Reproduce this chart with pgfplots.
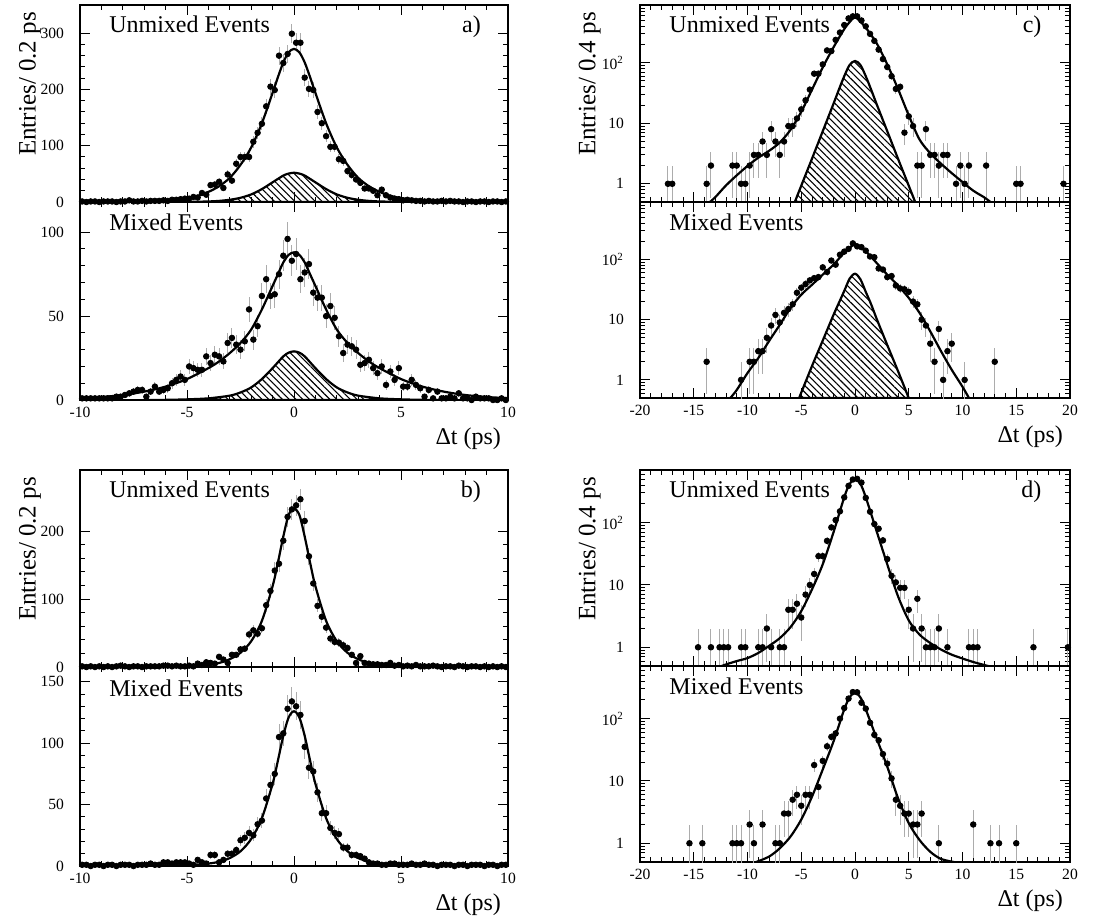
\documentclass[border=0pt]{standalone}
\usepackage{fontspec}
\setmainfont{Liberation Serif}
\usepackage{pgfplots}
\usepackage{pgfplotstable}
\pgfplotsset{compat=1.18}
\usetikzlibrary{patterns.meta}

\tikzset{lab/.style={font=\fontsize{12}{14}\selectfont}}
\pgfplotsset{
  rootbase/.style={scale only axis, width=214pt,
    axis line style={line width=0.8pt},
    tick align=inside, major tick length=5pt, minor tick length=2.5pt,
    every tick/.append style={black, line width=0.5pt},
    xmin=-10, xmax=10, xtick={-10,-5,0,5,10}, minor x tick num=4,
    tick label style={font=\fontsize{7.8}{9}\selectfont},
    yticklabel style={xshift=-4.5pt},
    /pgf/number format/assume math mode=true},
  widex/.style={xmin=-20, xmax=20, xtick={-20,-15,...,20}, width=215pt},
  upperpanel/.style={xticklabels={}},
  liny/.style={minor y tick num=4},
  logticks/.style={ymin=0.5, ytick={1,10,100},
    yticklabels={1,10,10\textsuperscript{2}},
    minor ytick={0.5,0.6,0.7,0.8,0.9,2,3,4,5,6,7,8,9,20,30,40,50,60,70,80,90,200,300,400,500,600,700,800,900}},
  ylab/.style={ylabel style={at={(rel axis cs:-0.159,1)}, anchor=north east,
    font=\fontsize{12.5}{14}\selectfont}},
  xlab/.style={xlabel={Δt (ps)}, xlabel style={at={(rel axis cs:1,0)},
    anchor=base east, yshift=-22pt, font=\fontsize{12}{14}\selectfont}},
  pts/.style={only marks, mark=*, mark size=1.4pt, black,
    error bars/.cd, y dir=both, y explicit, error mark=none,
    error bar style={gray!65, line width=0.5pt}},
  fit/.style={black, line width=1.1pt, smooth, no marks},
  hatch/.style={draw=black, line width=1.1pt, smooth, no marks,
    pattern={Lines[angle=-45, distance=2.4pt, line width=0.55pt]}},
}

% panel a
\pgfplotstableread[row sep=\\]{
x y\\
-9.9 1\\ -9.7 0\\ -9.5 1\\ -9.3 1\\ -9.1 0\\ -8.9 1\\ -8.7 1\\ -8.5 1\\ -8.3 0\\ -8.1 1\\
-7.9 1\\ -7.7 3\\ -7.5 1\\ -7.3 1\\ -7.1 2\\ -6.9 1\\ -6.7 2\\ -6.5 2\\ -6.3 2\\ -6.1 3\\
-5.9 2\\ -5.7 4\\ -5.5 4\\ -5.3 5\\ -5.1 6\\ -4.9 6\\ -4.7 9\\ -4.5 8\\ -4.3 16\\ -4.1 13\\
-3.9 30\\ -3.7 31\\ -3.5 36\\ -3.3 25\\ -3.1 49\\ -2.9 38\\ -2.7 68\\ -2.5 80\\ -2.3 80\\ -2.1 80\\
-1.9 107\\ -1.7 123\\ -1.5 139\\ -1.3 170\\ -1.1 205\\ -0.9 199\\ -0.7 260\\ -0.5 247\\ -0.3 263\\ -0.1 299\\
0.1 283\\ 0.3 283\\ 0.5 221\\ 0.7 201\\ 0.9 199\\ 1.1 160\\ 1.3 140\\ 1.5 117\\ 1.7 98\\ 1.9 98\\
2.1 76\\ 2.3 73\\ 2.5 55\\ 2.7 48\\ 2.9 40\\ 3.1 34\\ 3.3 24\\ 3.5 24\\ 3.7 20\\ 3.9 12\\
4.1 22\\ 4.3 12\\ 4.5 8\\ 4.7 6\\ 4.9 5\\ 5.1 3\\ 5.3 4\\ 5.5 3\\ 5.7 2\\ 5.9 2\\
6.1 1\\ 6.3 2\\ 6.5 1\\ 6.7 1\\ 6.9 2\\ 7.1 1\\ 7.3 2\\ 7.5 1\\ 7.7 1\\ 7.9 0\\
8.1 1\\ 8.3 1\\ 8.5 0\\ 8.7 1\\ 8.9 1\\ 9.1 0\\ 9.3 1\\ 9.5 1\\ 9.7 0\\ 9.9 1\\
}\aU
\pgfplotstableread[row sep=\\]{
x y\\
-9.9 1\\ -9.7 1\\ -9.5 1\\ -9.3 1\\ -9.1 1\\ -8.9 1\\ -8.7 1\\ -8.5 1\\ -8.3 2\\ -8.1 2\\
-7.9 3\\ -7.7 4\\ -7.5 5\\ -7.3 6\\ -7.1 6\\ -6.9 2\\ -6.7 5\\ -6.5 8\\ -6.3 5\\ -6.1 6\\
-5.9 7\\ -5.7 10\\ -5.5 12\\ -5.3 14\\ -5.1 12\\ -4.9 20\\ -4.7 19\\ -4.5 18\\ -4.3 18\\ -4.1 26\\
-3.9 22\\ -3.7 27\\ -3.5 26\\ -3.3 23\\ -3.1 34\\ -2.9 37\\ -2.7 33\\ -2.5 30\\ -2.3 35\\ -2.1 54\\
-1.9 36\\ -1.7 44\\ -1.5 62\\ -1.3 72\\ -1.1 62\\ -0.9 63\\ -0.7 75\\ -0.5 86\\ -0.3 96\\ -0.1 83\\
0.1 87\\ 0.3 72\\ 0.5 76\\ 0.7 81\\ 0.9 64\\ 1.1 61\\ 1.3 61\\ 1.5 50\\ 1.7 56\\ 1.9 49\\
2.1 38\\ 2.3 28\\ 2.5 33\\ 2.7 32\\ 2.9 30\\ 3.1 21\\ 3.3 22\\ 3.5 24\\ 3.7 19\\ 3.9 16\\
4.1 20\\ 4.3 9\\ 4.5 17\\ 4.7 12\\ 4.9 19\\ 5.1 8\\ 5.3 8\\ 5.5 12\\ 5.7 9\\ 5.9 7\\
6.1 2\\ 6.3 6\\ 6.5 1\\ 6.7 5\\ 6.9 1\\ 7.1 1\\ 7.3 2\\ 7.5 1\\ 7.7 4\\ 7.9 1\\
8.1 1\\ 8.3 0\\ 8.5 2\\ 8.7 1\\ 8.9 1\\ 9.1 1\\ 9.3 0\\ 9.5 0\\ 9.7 1\\ 9.9 0\\
}\aL
% panel b
\pgfplotstableread[row sep=\\]{
x y\\
-9.9 1\\ -9.7 0\\ -9.5 1\\ -9.3 0\\ -9.1 1\\ -8.9 0\\ -8.7 1\\ -8.5 0\\ -8.3 1\\ -8.1 2\\
-7.9 1\\ -7.7 0\\ -7.5 1\\ -7.3 1\\ -7.1 0\\ -6.9 1\\ -6.7 1\\ -6.5 1\\ -6.3 1\\ -6.1 2\\
-5.9 2\\ -5.7 1\\ -5.5 2\\ -5.3 1\\ -5.1 1\\ -4.9 2\\ -4.7 1\\ -4.5 5\\ -4.3 3\\ -4.1 7\\
-3.9 6\\ -3.7 5\\ -3.5 15\\ -3.3 11\\ -3.1 6\\ -2.9 18\\ -2.7 18\\ -2.5 26\\ -2.3 27\\ -2.1 48\\
-1.9 54\\ -1.7 49\\ -1.5 57\\ -1.3 91\\ -1.1 112\\ -0.9 142\\ -0.7 152\\ -0.5 186\\ -0.3 221\\ -0.1 232\\
0.1 238\\ 0.3 247\\ 0.5 215\\ 0.7 163\\ 0.9 123\\ 1.1 90\\ 1.3 74\\ 1.5 58\\ 1.7 42\\ 1.9 37\\
2.1 36\\ 2.3 32\\ 2.5 28\\ 2.7 18\\ 2.9 6\\ 3.1 16\\ 3.3 6\\ 3.5 5\\ 3.7 4\\ 3.9 4\\
4.1 3\\ 4.3 3\\ 4.5 6\\ 4.7 2\\ 4.9 3\\ 5.1 1\\ 5.3 2\\ 5.5 1\\ 5.7 3\\ 5.9 1\\
6.1 1\\ 6.3 1\\ 6.5 2\\ 6.7 1\\ 6.9 0\\ 7.1 1\\ 7.3 1\\ 7.5 0\\ 7.7 2\\ 7.9 1\\
8.1 0\\ 8.3 1\\ 8.5 1\\ 8.7 0\\ 8.9 1\\ 9.1 0\\ 9.3 1\\ 9.5 0\\ 9.7 1\\ 9.9 0\\
}\bU
\pgfplotstableread[row sep=\\]{
x y\\
-9.9 1\\ -9.7 1\\ -9.5 0\\ -9.3 1\\ -9.1 1\\ -8.9 0\\ -8.7 1\\ -8.5 1\\ -8.3 0\\ -8.1 1\\
-7.9 1\\ -7.7 1\\ -7.5 0\\ -7.3 1\\ -7.1 1\\ -6.9 1\\ -6.7 2\\ -6.5 1\\ -6.3 1\\ -6.1 3\\
-5.9 3\\ -5.7 2\\ -5.5 3\\ -5.3 3\\ -5.1 3\\ -4.9 2\\ -4.7 1\\ -4.5 5\\ -4.3 3\\ -4.1 2\\
-3.9 9\\ -3.7 9\\ -3.5 3\\ -3.3 5\\ -3.1 10\\ -2.9 10\\ -2.7 13\\ -2.5 21\\ -2.3 23\\ -2.1 27\\
-1.9 25\\ -1.7 34\\ -1.5 37\\ -1.3 55\\ -1.1 66\\ -0.9 75\\ -0.7 105\\ -0.5 108\\ -0.3 128\\ -0.1 134\\
0.1 130\\ 0.3 123\\ 0.5 97\\ 0.7 80\\ 0.9 77\\ 1.1 60\\ 1.3 43\\ 1.5 43\\ 1.7 31\\ 1.9 27\\
2.1 26\\ 2.3 15\\ 2.5 15\\ 2.7 9\\ 2.9 9\\ 3.1 8\\ 3.3 6\\ 3.5 3\\ 3.7 2\\ 3.9 2\\
4.1 1\\ 4.3 1\\ 4.5 2\\ 4.7 2\\ 4.9 1\\ 5.1 1\\ 5.3 1\\ 5.5 2\\ 5.7 1\\ 5.9 1\\
6.1 2\\ 6.3 1\\ 6.5 1\\ 6.7 0\\ 6.9 1\\ 7.1 1\\ 7.3 1\\ 7.5 0\\ 7.7 1\\ 7.9 1\\
8.1 0\\ 8.3 1\\ 8.5 1\\ 8.7 1\\ 8.9 0\\ 9.1 1\\ 9.3 1\\ 9.5 0\\ 9.7 1\\ 9.9 1\\
}\bL
% panel c (empty bins left out)
\pgfplotstableread[row sep=\\]{
x y\\
-17.4 1\\ -17.0 1\\ -13.8 1\\ -13.4 2\\ -11.4 2\\ -11.0 2\\ -10.6 1\\ -10.2 1\\ -9.8 2\\ -9.4 3\\
-9.0 3\\ -8.6 5\\ -8.2 3\\ -7.8 8\\ -7.4 5\\ -7.0 3\\ -6.6 5\\ -6.2 9\\ -5.8 9\\ -5.4 12\\
-5.0 17\\ -4.6 24\\ -4.2 36\\ -3.8 66\\ -3.4 66\\ -3.0 94\\ -2.6 160\\ -2.2 156\\ -1.8 239\\ -1.4 316\\
-1.0 420\\ -0.6 541\\ -0.2 585\\ 0.2 585\\ 0.6 500\\ 1.0 400\\ 1.4 300\\ 1.8 230\\ 2.2 165\\ 2.6 115\\
3.0 85\\ 3.4 60\\ 3.8 37\\ 4.2 40\\ 4.6 7\\ 5.0 13\\ 5.4 9\\ 5.8 2\\ 6.2 2\\ 6.6 8\\
7.0 3\\ 7.4 3\\ 7.8 2\\ 8.2 3\\ 8.6 3\\ 9.4 1\\ 9.8 2\\ 10.2 1\\ 10.6 2\\ 12.2 2\\
15.0 1\\ 15.4 1\\ 19.4 1\\
}\cU
\pgfplotstableread[row sep=\\]{
x y\\
-13.8 2\\ -10.6 1\\ -9.8 2\\ -9.4 2\\ -9.0 3\\ -8.6 3\\ -8.2 5\\ -7.8 8\\ -7.4 12\\ -7.0 9\\
-6.6 13\\ -6.2 15\\ -5.8 18\\ -5.4 28\\ -5.0 34\\ -4.6 39\\ -4.2 45\\ -3.8 49\\ -3.4 51\\ -3.0 74\\
-2.6 62\\ -2.2 96\\ -1.8 82\\ -1.4 120\\ -1.0 135\\ -0.6 150\\ -0.2 185\\ 0.2 165\\ 0.6 160\\ 1.0 140\\
1.4 112\\ 1.8 109\\ 2.2 71\\ 2.6 68\\ 3.0 51\\ 3.4 53\\ 3.8 37\\ 4.2 33\\ 4.6 32\\ 5.0 29\\
5.4 20\\ 5.8 18\\ 6.2 10\\ 6.6 8\\ 7.0 4\\ 7.4 2\\ 7.8 7\\ 8.2 1\\ 8.6 3\\ 9.0 4\\
10.2 1\\ 13.0 2\\
}\cL
% panel d (empty bins left out)
\pgfplotstableread[row sep=\\]{
x y\\
-14.6 1\\ -13.4 1\\ -12.6 1\\ -12.2 1\\ -11.8 1\\ -10.6 1\\ -10.2 1\\ -9.0 1\\ -8.6 1\\ -8.2 2\\
-7.8 1\\ -7.0 1\\ -6.6 1\\ -6.2 4\\ -5.8 4\\ -5.4 5\\ -5.0 3\\ -4.6 7\\ -4.2 10\\ -3.8 15\\
-3.4 29\\ -3.0 29\\ -2.6 51\\ -2.2 84\\ -1.8 110\\ -1.4 152\\ -1.0 255\\ -0.6 390\\ -0.2 493\\ 0.2 505\\
0.6 440\\ 1.0 250\\ 1.4 150\\ 1.8 95\\ 2.2 80\\ 2.6 52\\ 3.0 26\\ 3.4 14\\ 3.8 11\\ 4.2 9\\
4.6 9\\ 5.0 4\\ 5.4 2\\ 5.8 6\\ 6.2 2\\ 6.6 1\\ 7.0 1\\ 7.4 1\\ 7.8 2\\ 8.6 1\\
10.6 1\\ 11.0 1\\ 11.4 1\\ 16.6 1\\ 19.8 1\\
}\dU
\pgfplotstableread[row sep=\\]{
x y\\
-15.4 1\\ -14.2 1\\ -11.4 1\\ -11.0 1\\ -10.6 1\\ -9.8 2\\ -9.4 1\\ -8.6 2\\ -7.4 1\\ -7.0 1\\
-6.6 3\\ -6.2 3\\ -5.8 5\\ -5.4 6\\ -5.0 4\\ -4.6 6\\ -4.2 6\\ -3.8 18\\ -3.4 8\\ -3.0 21\\
-2.6 36\\ -2.2 51\\ -1.8 58\\ -1.4 100\\ -1.0 148\\ -0.6 210\\ -0.2 267\\ 0.2 265\\ 0.6 180\\ 1.0 145\\
1.4 86\\ 1.8 55\\ 2.2 45\\ 2.6 27\\ 3.0 19\\ 3.4 11\\ 3.8 5\\ 4.2 4\\ 4.6 3\\ 5.0 3\\
5.4 2\\ 5.8 2\\ 6.2 3\\ 7.8 1\\ 11.0 2\\ 12.6 1\\ 13.4 1\\ 15.0 1\\
}\dL

\newcommand{\linpts}[1]{\addplot[pts] table[x=x, y=y,
  y error plus expr={sqrt(\thisrow{y})},
  y error minus expr={sqrt(\thisrow{y})}] {#1};}
\newcommand{\logpts}[1]{\addplot[pts] table[x=x, y=y,
  y error plus expr={sqrt(\thisrow{y})},
  y error minus expr={min(sqrt(\thisrow{y}),0.9*\thisrow{y})}] {#1};}

\begin{document}
\begin{tikzpicture}
\path[use as bounding box] (0,0) rectangle (560pt,-459pt);

% ---- a) ----
\begin{axis}[rootbase, upperpanel, liny, ylab, at={(40pt,-2.5pt)}, anchor=north west,
  height=98.5pt, ymin=0, ymax=350, ytick={0,100,200,300},
  ylabel={Entries/ 0.2 ps}]
\addplot[hatch] coordinates {(-6,0)(-5,0.2)(-4,1)(-3.5,2)(-3,4)(-2.5,7.5)(-2,13.5)(-1.5,23)(-1,35)(-0.5,47)(-0.25,50.5)(0,52)(0.25,50.5)(0.5,47)(1,35)(1.5,23)(2,13.5)(2.5,7.5)(3,4)(3.5,2)(4,1)(5,0.2)(6,0)} \closedcycle;
\linpts{\aU}
\addplot[fit] coordinates {(-10,0.05)(-9,0.15)(-8,0.4)(-7,1)(-6,2.5)(-5.5,4)(-5,7)(-4.5,11)(-4,18)(-3.5,28)(-3,43)(-2.5,66)(-2,97)(-1.5,140)(-1,194)(-0.75,222)(-0.5,248)(-0.25,266)(0,272)(0.25,266)(0.5,248)(0.75,222)(1,194)(1.5,140)(2,97)(2.5,66)(3,43)(3.5,28)(4,18)(4.5,11)(5,7)(5.5,4)(6,2.5)(7,1)(8,0.4)(9,0.15)(10,0.05)};
\node[lab, anchor=base west] at (rel axis cs:0.052,0.858) {Unmixed Events};
\node[lab, anchor=base east] at (rel axis cs:0.953,0.858) {a)};
\end{axis}
\begin{axis}[rootbase, liny, xlab, at={(40pt,-101pt)}, anchor=north west,
  height=99pt, ymin=0, ymax=118, ytick={0,50,100}]
\addplot[hatch] coordinates {(-7,0)(-6,0.1)(-5,0.4)(-4,1)(-3,2.6)(-2.5,4.5)(-2,7.5)(-1.5,12.5)(-1,19)(-0.5,26)(-0.25,28.2)(0,29)(0.25,28.2)(0.5,26)(1,19)(1.5,12.5)(2,7.5)(2.5,4.5)(3,2.6)(4,1)(5,0.4)(6,0.1)(7,0)} \closedcycle;
\linpts{\aL}
\addplot[fit] coordinates {(-10,1.1)(-9,1.8)(-8,3)(-7,5)(-6,8)(-5,12.5)(-4,19)(-3.5,23)(-3,28)(-2.5,34)(-2,42)(-1.5,54)(-1,68)(-0.75,75)(-0.5,82)(-0.25,86.5)(0,88)(0.25,86.5)(0.5,82)(0.75,75)(1,68)(1.5,54)(2,42)(2.5,34)(3,28)(3.5,23)(4,19)(5,12.5)(6,8)(7,5)(8,3)(9,1.8)(10,1.1)};
\node[lab, anchor=base west] at (rel axis cs:0.052,0.854) {Mixed Events};
\end{axis}

% ---- c) ----
\begin{axis}[ymode=log, rootbase, widex, upperpanel, logticks, ylab,
  at={(320pt,-2.5pt)}, anchor=north west,
  height=98.5pt, ymax=900, ylabel={Entries/ 0.4 ps}]
\addplot[hatch] coordinates {(-5.6,0.5)(-5,0.93)(-4,2.6)(-3,7.4)(-2,21)(-1.5,36)(-1,60)(-0.5,92)(0,107)(0.5,92)(1,60)(1.5,36)(2,21)(3,7.4)(4,2.6)(5,0.93)(5.6,0.5)} -- cycle;
\logpts{\cU}
\addplot[fit] coordinates {(-13.5,0.5)(-13,0.6)(-12,0.94)(-11,1.38)(-10,1.97)(-9,2.7)(-8,3.5)(-7,4.8)(-6,7.8)(-5,15.5)(-4,36)(-3,84)(-2,180)(-1,360)(-0.5,470)(0,570)(0.5,475)(1,380)(2,212)(3,94)(4,37)(5,13.5)(6,5.4)(7,3.2)(8,2.15)(9,1.5)(10,1.07)(11,0.77)(12,0.6)(12.6,0.5)};
\node[lab, anchor=base west] at (rel axis cs:0.052,0.858) {Unmixed Events};
\node[lab, anchor=base east] at (rel axis cs:0.95,0.858) {c)};
\end{axis}
\begin{axis}[ymode=log, rootbase, widex, logticks, xlab,
  at={(320pt,-101pt)}, anchor=north west,
  height=98pt, ymax=900]
\addplot[hatch] coordinates {(-5.2,0.5)(-4,1.7)(-3,4.5)(-2,12)(-1.5,19)(-1,30)(-0.5,48)(0,58)(0.5,47)(1,29)(1.5,18)(2,10.5)(3,3.8)(4,1.4)(5,0.5)} -- cycle;
\logpts{\cL}
\addplot[fit] coordinates {(-11.6,0.5)(-11,0.68)(-10,1.3)(-9,2.3)(-8,4.4)(-7,8.2)(-6,15.6)(-5,26)(-4,38)(-3,56)(-2,82)(-1,130)(-0.5,155)(0,182)(0.5,158)(1,137)(2,88)(3,56)(4,37)(5,23)(6,13)(7,6.4)(8,3)(9,1.47)(10,0.77)(10.6,0.5)};
\node[lab, anchor=base west] at (rel axis cs:0.052,0.854) {Mixed Events};
\end{axis}

% ---- b) ----
\begin{axis}[rootbase, upperpanel, liny, ylab, at={(40pt,-235pt)}, anchor=north west,
  height=98.5pt, ymin=0, ymax=290, ytick={0,100,200},
  ylabel={Entries/ 0.2 ps}]
\linpts{\bU}
\addplot[fit] coordinates {(-10,0.05)(-8,0.1)(-6,0.4)(-5,1)(-4,3.2)(-3.5,6)(-3,11.5)(-2.5,21)(-2,38)(-1.5,68)(-1,119)(-0.75,154)(-0.5,192)(-0.25,224)(0,233)(0.25,224)(0.5,192)(0.75,154)(1,119)(1.5,68)(2,38)(2.5,21)(3,11.5)(3.5,6)(4,3.2)(5,1)(6,0.4)(8,0.1)(10,0.05)};
\node[lab, anchor=base west] at (rel axis cs:0.052,0.862) {Unmixed Events};
\node[lab, anchor=base east] at (rel axis cs:0.953,0.862) {b)};
\end{axis}
\begin{axis}[rootbase, liny, xlab, at={(40pt,-333.5pt)}, anchor=north west,
  height=99.5pt, ymin=0, ymax=162, ytick={0,50,100,150}]
\linpts{\bL}
\addplot[fit] coordinates {(-10,0.05)(-8,0.1)(-6,0.3)(-5,0.7)(-4,2)(-3.5,3.5)(-3,6.5)(-2.5,12)(-2,22)(-1.5,39)(-1,67)(-0.75,86)(-0.5,106)(-0.25,121)(0,126)(0.25,121)(0.5,106)(0.75,86)(1,67)(1.5,39)(2,22)(2.5,12)(3,6.5)(3.5,3.5)(4,2)(5,0.7)(6,0.3)(8,0.1)(10,0.05)};
\node[lab, anchor=base west] at (rel axis cs:0.052,0.854) {Mixed Events};
\end{axis}

% ---- d) ----
\begin{axis}[ymode=log, rootbase, widex, upperpanel, logticks, ylab,
  at={(320pt,-235pt)}, anchor=north west,
  height=98pt, ymax=700, ylabel={Entries/ 0.4 ps}]
\logpts{\dU}
\addplot[fit] coordinates {(-12.4,0.5)(-12,0.53)(-11,0.6)(-10,0.67)(-9,0.81)(-8,1.05)(-7,1.4)(-6,2.1)(-5,3.8)(-4,8.5)(-3,21.5)(-2,70)(-1,256)(-0.5,420)(0,500)(0.5,420)(1,256)(2,74)(3,21.5)(4,6.6)(5,2.7)(6,1.6)(7,1.17)(8,0.92)(9,0.76)(10,0.66)(11,0.58)(12,0.52)(12.4,0.5)};
\node[lab, anchor=base west] at (rel axis cs:0.052,0.862) {Unmixed Events};
\node[lab, anchor=base east] at (rel axis cs:0.95,0.862) {d)};
\end{axis}
\begin{axis}[ymode=log, rootbase, widex, logticks, xlab,
  at={(320pt,-333pt)}, anchor=north west,
  height=98pt, ymax=700]
\logpts{\dL}
\addplot[fit] coordinates {(-9.2,0.5)(-8,0.61)(-7,0.83)(-6,1.28)(-5,2.4)(-4,5.6)(-3,15.3)(-2,43)(-1,141)(-0.5,220)(0,265)(0.5,220)(1,141)(2,49)(3,17)(4,5.3)(5,2.1)(6,1.13)(7,0.73)(8,0.56)(9.2,0.5)};
\node[lab, anchor=base west] at (rel axis cs:0.052,0.854) {Mixed Events};
\end{axis}
\end{tikzpicture}
\end{document}
